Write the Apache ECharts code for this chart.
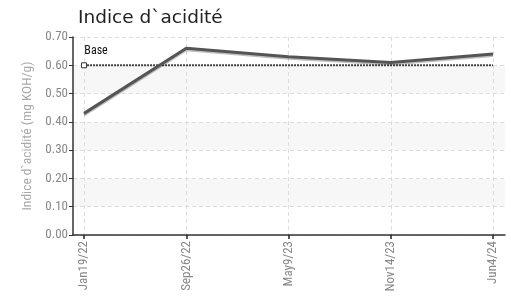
<!DOCTYPE html>
<html><head><meta charset="utf-8">
<script src="https://cdn.jsdelivr.net/npm/echarts@6/dist/echarts.min.js"></script>
<style>html,body{margin:0;padding:0;background:#fff}#c{width:511px;height:298px}</style>
</head><body><div id="c"></div>
<script>
var categories = ['Jan19/22','Sep26/22','May9/23','Nov14/23','Jun4/24'];
var acidValues = [0.43, 0.66, 0.63, 0.61, 0.64];
var baseValue = 0.60;
var baseLabel = 'Base';
var yTicks = [0, 0.1, 0.2, 0.3, 0.4, 0.5, 0.6, 0.7];

var chart = echarts.init(document.getElementById('c'), null, {renderer:'canvas'});
var nf = '"Liberation Sans Narrow", "Roboto Condensed", Roboto, sans-serif';
chart.setOption({
  animation:false,
  title:{text:'Indice d`acidité', left:73, top:4, textStyle:{fontFamily:'"DejaVu Sans", sans-serif', fontSize:18.5, fontWeight:'normal', color:'#222'}},
  grid:{left:73, right:6, top:37, bottom:63},
  xAxis:{type:'value', min:-0.108, max:4.117, interval:1,
    axisLine:{onZero:false, lineStyle:{color:'#333', width:1.5}},
    axisTick:{show:true, length:4, lineStyle:{color:'#222', width:1.5}, customValues:[0,1,2,3,4]},
    axisLabel:{rotate:90, color:'#888', fontFamily:nf, fontSize:13, margin:6, customValues:[0,1,2,3,4],
      formatter:function(v){return categories[Math.round(v)]||'';}},
    splitLine:{show:true, lineStyle:{color:'#ddd', type:[4,3]}}
  },
  yAxis:{type:'value', min:0, max:0.7, interval:0.1,
    name:'Indice d`acidité (mg KOH/g)', nameLocation:'middle', nameGap:38, nameRotate:90,
    nameTextStyle:{color:'#aaa', fontFamily:nf, fontSize:13.5},
    axisLine:{show:true, onZero:false, lineStyle:{color:'#333', width:1.5}},
    axisTick:{show:true, length:4, lineStyle:{color:'#333'}},
    axisLabel:{color:'#888', fontFamily:nf, fontSize:13, margin:5, formatter:function(v){return v.toFixed(2);}},
    splitLine:{show:true, lineStyle:{color:'#ddd', type:[4,3]}},
    splitArea:{show:true, areaStyle:{color:['#ffffff','#f7f7f7']}}
  },
  series:[
    {type:'line', data:categories.map(function(c,i){return [i, baseValue];}),
      lineStyle:{color:'#444', width:2, type:[2,1]},
      symbol:'none', silent:true, z:2,
      markPoint:{symbol:'rect', symbolSize:5, itemStyle:{color:'#fff', borderColor:'#333', borderWidth:1},
        data:[{coord:[0, baseValue], label:{show:true, formatter:baseLabel, position:'top', offset:[12,0], color:'#111', fontFamily:nf, fontSize:12}}]}
    },
    {type:'line', data:acidValues.map(function(v,i){return [i,v];}),
      lineStyle:{color:'#555', width:3, shadowColor:'rgba(0,0,0,0.25)', shadowOffsetY:1.5, shadowBlur:0},
      symbol:'none', z:3}
  ]
});
</script></body></html>
